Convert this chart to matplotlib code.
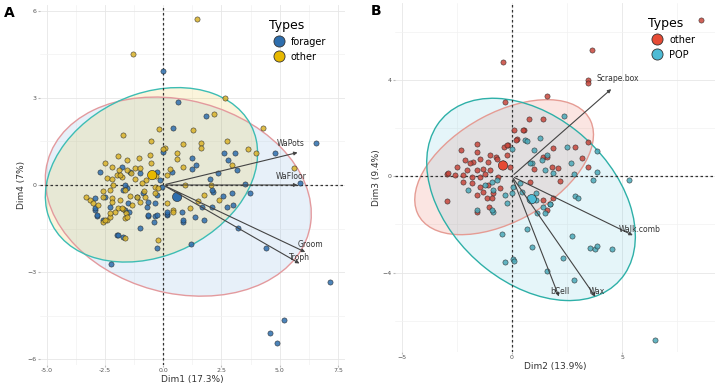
import numpy as np
import matplotlib.pyplot as plt
from matplotlib.patches import Ellipse
from matplotlib.lines import Line2D

# ---- panel A : Dim1 / Dim4 ----
a_forager_x = [0, 0.64, 1.83, 0.43, 6.57, 4.8, 5.88, 3.5, 3.73, -2.23, -1.97, -0.26, 1.2, 4.42, 3.22, 7.17,
               5.2, 4.59, 4.89, 3.0, 2.75, 1.77, 2.15, 2.6, 3.09, 2.79, 3.18, 2.36, 2.02, 1.24, 1.42, 1.24,
               0.39, 0, 2.1, 2.96, 2.57, 1.37, 0.86, 0.17, -0.34, 2.1, 1.67, -2.7, -1.42, -0.99, -0.26,
               -1.55, -1.72, -2.92, -2.49, -2.27, -1.63, -1.12, -0.69, -0.26, -0.04, -0.64, 0.17, -2.83,
               -2.92, -2.6, -1.46, -0.86, -0.99, 0.82, -0.4, -1.63, -1.76, -1.5, -0.64, -0.34, -0.64,
               -2.92, -2.83, -0.26, 0.17, -0.13, -1.93, -1.72, 0.86]
a_forager_y = [3.93, 2.86, 2.39, 1.97, 1.45, 1.1, 0.07, 0.03, -0.27, -2.72, -1.72, -2.17, -2.03, -2.17,
               -1.48, -3.34, -4.66, -5.1, -5.45, -0.69, -0.76, -1.21, -0.24, 1.1, 1.1, 0.86, 0.52, 0.41,
               0.21, 0.93, 0.69, 0.55, 0.45, 1.14, -0.17, -0.28, -0.38, -1.1, -1.28, -1.03, -1.07, -0.76,
               -0.76, 0.45, 0.45, 0.41, 0.45, -0.1, -0.17, -0.45, -0.41, -0.76, -0.86, -0.41, -0.76,
               -0.34, -0.07, -1.07, -0.99, -1.07, -0.86, -1.2, -0.93, -0.28, -1.48, -0.93, -1.28, 0.0,
               0.62, -0.62, -0.59, -0.62, -1.03, -0.79, -1.03, -1.03, -0.93, 0.17, -1.72, -1.8, -1.2]
a_other_x = [1.46, -1.29, 2.66, 2.2, 4.3, -1.72, -0.17, 5.6, -1.63, -0.21, 1.63, 1.63, 2.75, 0.86, 3.65,
             3.98, 2.96, 0.6, 0.6, 0.86, 0.09, 0.94, 1.76, 1.16, 0.43, 0.0, -0.56, -1.93, -1.55, -1.03,
             -1.89, -2.4, -2.19, -1.97, -1.76, -1.2, -0.73, -2.27, -3.13, -3.0, -2.79, -2.19, -1.85,
             -1.93, -1.33, -0.99, -0.34, 0.17, -1.63, -3.3, -2.57, -2.4, -2.27, -2.06, -1.72, -1.59,
             -1.55, -1.12, 2.05, -1.4, -0.5, -0.3, 0.3, -2.5, -0.8, 1.3, 1.5, -2.6, -1.2, -0.5, -2.19,
             -1.85, -1.55, -0.99, -0.9, -1.63, -2.15, -2.57, -2.19, -1.76, -2.27, -2.49, -1.42, -0.77,
             -0.34, 0.17, -0.21, 0.43, 2.4]
a_other_y = [5.72, 4.52, 3.0, 2.45, 1.97, 1.72, 1.93, 0.58, -1.83, -1.9, 1.45, 1.28, 1.52, 1.41, 1.24,
             1.1, 0.69, 1.1, 0.9, 0.62, 1.28, 0.0, -0.34, -0.79, -0.86, 1.24, 1.03, 1.0, 0.86, 0.93,
             0.52, 0.24, 0.21, 0.34, 0.28, 0.59, 0.17, -0.17, -0.52, -0.62, -0.69, -0.45, -0.52, -0.79,
             -0.69, -0.59, -0.07, -0.62, -1.14, -0.4, -1.28, -1.21, -1.1, -0.93, -0.83, -0.97, -1.1,
             -0.41, 0.0, 0.4, 0.75, 0.3, 0.55, 0.75, -0.2, 1.9, -0.55, -0.2, 0.2, 1.5, 0.62, 0.34,
             0.52, 0.59, 0.07, -0.17, 0.0, -0.41, -0.59, -0.79, -0.97, -1.2, -0.38, -0.41, -0.28,
             0.34, -0.1, -0.93, -0.5]
a_means_x = [0.6, -0.47]
a_means_y = [-0.41, 0.34]
a_var_names = ["WaPots", "WaFloor", "Groom", "Troph"]
a_var_x = [5.88, 5.88, 6.2, 5.95]
a_var_y = [1.14, 0.0, -2.35, -2.75]
# ellipse: centre x, centre y, width, height, angle
a_ell_forager = [0.65, -0.4, 11.5, 6.7, -9]
a_ell_other = [-0.5, 0.35, 9.3, 5.7, 15]

# ---- panel B : Dim2 / Dim3 ----
b_other_x = [8.6, 3.64, -0.4, 3.45, 3.45, 1.6, -0.3, 0.77, 1.4, 0.1, 0.55, -1.6, -0.18, -0.36, 0.23, 1.86,
             2.86, 3.45, 1.4, 3.2, 2.1, 3.45, -2.95, -1.6, -1.0, -0.7, -2.95, -1.6, -1.05, 1.86, 2.2, 1.0,
             -2.32, -0.23, 0.18, -2.14, -1.77, -1.45, -1.09, -0.68, -0.41, -0.09, -2.05, -1.6, -1.32,
             -1.0, -2.9, -2.59, -2.23, -1.82, -1.45, -0.64, -2.23, -1.82, -1.45, -1.09, -1.32, -0.86,
             -1.6, -0.55, -1.14, -0.9, 1.6, 1.82, 0.82, 1.41, 1.6, 0.5, -1.2, -0.2, -2.5, -1.9]
b_other_y = [6.5, 5.25, 4.75, 4.0, 3.88, 3.33, 3.08, 2.38, 2.38, 1.92, 1.92, 1.33, 1.29, 1.21, 1.54, 1.17,
             1.2, 1.42, 0.8, 0.75, 0.33, 0.38, 0.1, 1.0, 0.87, 0.8, -1.04, -1.5, -1.29, -0.92, -0.2, 0.3,
             1.08, 1.29, 1.5, 0.67, 0.58, 0.71, 0.58, 0.71, 0.54, 0.38, 0.25, 0.25, 0.29, 0.25, 0.13,
             0.04, 0.04, -0.04, -0.04, -0.04, -0.25, -0.29, -0.46, -0.38, -0.67, -0.71, -0.79, -0.5,
             -0.92, -0.92, 0.79, 0.38, -0.25, -1.0, -1.42, 1.92, 0.1, 0.9, 0.4, 0.55]
b_pop_x = [2.36, 0.6, 1.27, 1.0, 2.5, 3.86, 0.9, 2.68, 2.8, 3.86, 5.3, 3.7, -0.86, -0.45, 0.68, 0.9, -0.3,
           0.05, 0.1, 1.6, 2.3, 2.73, 2.8, 3.55, 3.75, 3.85, 4.55, 6.5, 1.14, 1.5, 0.95, 1.1, 1.73, 2.86,
           3.0, 0.0, 0.68, 0.82, 1.36, 1.6, -0.91, -0.68, -1.23, -2.0, -0.86, -0.32, 0.36, 0.45, 0.82,
           1.1, 0.9, -1.6, -0.91, 0.0, 0.05, -0.2, 1.5, 1.86, 1.41, 1.73]
b_pop_y = [2.5, 1.5, 1.58, 1.08, 1.2, 1.04, 0.54, 0.54, 0.1, 0.2, -0.17, -0.17, -1.5, -2.38, -2.2, -2.92,
           -3.54, -3.42, -3.5, -3.92, -3.38, -2.5, -4.3, -2.96, -3.0, -2.9, -3.0, -6.8, -1.54, -1.54,
           -0.92, -1.0, -1.13, -0.83, -0.92, 1.13, 1.46, 0.54, 0.67, 0.88, -0.25, -0.17, -0.38, -0.58,
           -0.58, -0.79, -0.29, -0.67, -0.92, -0.71, -1.0, -1.42, -1.42, -0.71, -0.46, -1.1, 0.25, 0.13,
           -1.29, -1.13]
b_means_x = [-0.4, 0.9]
b_means_y = [0.45, -0.95]
b_var_names = ["Scrape.box", "Walk.comb", "bCell", "Wax"]
b_var_x = [4.6, 5.6, 2.18, 3.86]
b_var_y = [3.7, -2.5, -5.1, -5.1]
b_ell_other = [-0.35, 0.38, 8.74, 4.56, 26]
b_ell_pop = [0.87, -0.96, 10.52, 7.04, -36]


def draw_panel(ax, groups, ells, means, var_names, var_x, var_y, label_offsets, xlim, ylim,
               xmajor, xminor, ymajor, yminor, xlabel, ylabel, legend_names, legend_colors):
    ax.set_facecolor("white")
    ax.set_xlim(*xlim)
    ax.set_ylim(*ylim)
    ax.set_xticks(xmajor)
    ax.set_xticks(xminor, minor=True)
    ax.set_yticks(ymajor)
    ax.set_yticks(yminor, minor=True)
    ax.grid(True, which="major", color="#e6e6e6", linewidth=0.6)
    ax.grid(True, which="minor", color="#f2f2f2", linewidth=0.5)
    ax.set_axisbelow(True)
    for s in ax.spines.values():
        s.set_visible(False)
    ax.tick_params(which="both", length=1.5, color="#bbbbbb", labelsize=4.5, labelcolor="#555555", pad=1)
    ax.tick_params(which="minor", length=0)

    # confidence ellipses
    for cx, cy, w, h, ang, fc, ec in ells:
        ax.add_patch(Ellipse((cx, cy), w, h, angle=ang, facecolor=fc, alpha=0.14, edgecolor="none", zorder=1))
        ax.add_patch(Ellipse((cx, cy), w, h, angle=ang, facecolor="none", edgecolor=ec, lw=1.0, zorder=2))

    ax.axhline(0, color="#333333", ls=(0, (2, 2)), lw=0.9, zorder=3)
    ax.axvline(0, color="#333333", ls=(0, (2, 2)), lw=0.9, zorder=3)

    for gx, gy, c in groups:
        ax.scatter(gx, gy, s=14, c=c, edgecolors="#222222", linewidths=0.4, alpha=0.85, zorder=4)
    mx, my, mcol = means
    ax.scatter(mx, my, s=45, c=mcol, edgecolors="#222222", linewidths=0.4, zorder=5)

    for name, vx, vy, (dx, dy) in zip(var_names, var_x, var_y, label_offsets):
        ax.annotate("", xy=(vx, vy), xytext=(0, 0),
                    arrowprops=dict(arrowstyle="-|>", color="#444444", lw=0.8, mutation_scale=5), zorder=6)
        ax.text(vx + dx, vy + dy, name, fontsize=5.5, color="#333333", ha="center", va="center", zorder=7)

    ax.set_xlabel(xlabel, fontsize=6.5, color="#333333", labelpad=1)
    ax.set_ylabel(ylabel, fontsize=6.5, color="#333333", labelpad=1)

    handles = [Line2D([], [], marker="o", ls="", markersize=8, markerfacecolor=c,
                      markeredgecolor="#333333", markeredgewidth=0.6) for c in legend_colors]
    leg = ax.legend(handles, legend_names, title="Types", loc="upper right", bbox_to_anchor=(0.96, 0.98),
                    frameon=False, fontsize=7, title_fontsize=9, handletextpad=0.2, labelspacing=0.5,
                    borderaxespad=0.3)
    leg._legend_box.align = "left"


fig = plt.figure(figsize=(7.2, 3.83), dpi=100)
fig.patch.set_facecolor("white")

axA = fig.add_axes([0.0556, 0.047, 0.4236, 0.94])
draw_panel(axA,
           groups=[(a_forager_x, a_forager_y, "#2E6EAD"), (a_other_x, a_other_y, "#D9B22A")],
           ells=[a_ell_forager + ["#5B9BD5", "#E39A9E"], a_ell_other + ["#E7B800", "#3DBDB4"]],
           means=(a_means_x, a_means_y, ["#2E6EAD", "#E7B800"]),
           var_names=a_var_names, var_x=a_var_x, var_y=a_var_y,
           label_offsets=[(-0.4, 0.3), (-0.4, 0.3), (0.1, 0.3), (-0.1, 0.25)],
           xlim=(-5.28, 7.8), ylim=(-6.2, 6.2),
           xmajor=[-5, -2.5, 0, 2.5, 5, 7.5], xminor=[-3.75, -1.25, 1.25, 3.75, 6.25],
           ymajor=[-6, -3, 0, 3, 6], yminor=[-4.5, -1.5, 1.5, 4.5],
           xlabel="Dim1 (17.3%)", ylabel="Dim4 (7%)",
           legend_names=["forager", "other"], legend_colors=["#2E6EAD", "#E7B800"])
axA.set_xticklabels(["-5.0", "-2.5", "0.0", "2.5", "5.0", "7.5"])

axB = fig.add_axes([0.5486, 0.081, 0.444, 0.911])
draw_panel(axB,
           groups=[(b_other_x, b_other_y, "#C8463C"), (b_pop_x, b_pop_y, "#4AA8B8")],
           ells=[b_ell_other + ["#E64B35", "#E59C94"], b_ell_pop + ["#4DBBD5", "#2EB0A8"]],
           means=(b_means_x, b_means_y, ["#E64B35", "#4DBBD5"]),
           var_names=b_var_names, var_x=b_var_x, var_y=b_var_y,
           label_offsets=[(0.2, 0.35), (0.2, 0.3), (0.0, 0.3), (0.0, 0.3)],
           xlim=(-5.3, 9.2), ylim=(-7.3, 7.2),
           xmajor=[-5, 0, 5], xminor=[-2.5, 2.5, 7.5],
           ymajor=[-4, 0, 4], yminor=[-6, -2, 2, 6],
           xlabel="Dim2 (13.9%)", ylabel="Dim3 (9.4%)",
           legend_names=["other", "POP"], legend_colors=["#E64B35", "#4DBBD5"])

fig.text(0.006, 0.985, "A", fontsize=10, fontweight="bold", va="top")
fig.text(0.515, 0.99, "B", fontsize=10, fontweight="bold", va="top")

fig.savefig("out.png", dpi=100)
